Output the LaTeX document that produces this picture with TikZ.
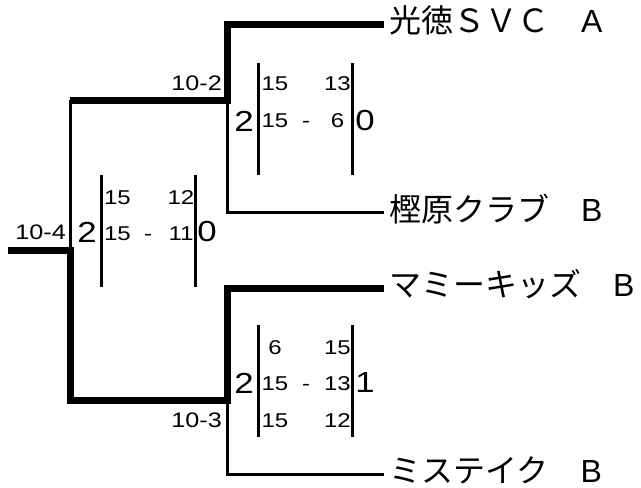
\documentclass[tikz,border=0pt]{standalone}
\usepackage{fontspec}
\setmainfont{Liberation Sans}
\newfontfamily\numfont[FakeStretch=1.2]{Liberation Sans}
\newfontfamily\jp{Noto Sans CJK JP}
\newcommand\gradeltr[1]{{\fontspec{Liberation Sans}#1}}
\newcommand\teamtxt[1]{\raisebox{3.5pt}[\height][\depth]{#1}}
\begin{document}
\begin{tikzpicture}[x=1pt,y=-1pt,
  small/.style={font=\numfont\fontsize{20}{20}\selectfont, inner sep=0pt, anchor=base},
  mlab/.style={font=\numfont\fontsize{21}{21}\selectfont, inner sep=0pt, anchor=east},
  big/.style={font=\numfont\fontsize{29}{29}\selectfont, inner sep=0pt},
  team/.style={font=\jp\fontsize{32}{32}\selectfont, anchor=west, inner xsep=5pt, inner ysep=0pt},
  win/.style={line width=7pt, line join=miter},
  lose/.style={line width=3pt, line join=miter},
  bar/.style={line width=3pt}]
\useasboundingbox (0,0) rectangle (641,488);
% teams
\node[team] (t1) at (384,24) {\teamtxt{光徳ＳＶＣ　\gradeltr{A}}};
\node[team] (t2) at (384,212.5) {\teamtxt{樫原クラブ　\gradeltr{B}}};
\node[team] (t3) at (384,288) {\teamtxt{マミーキッズ　\gradeltr{B}}};
\node[team] (t4) at (384,474) {\teamtxt{ミステイク　\gradeltr{B}}};
% junctions
\coordinate (r) at (8,250);
\coordinate (j0) at (70,250);
\coordinate (u) at (70,100);
\coordinate (ju) at (227,100);
\coordinate (l) at (70,400);
\coordinate (jl) at (227,400);
% bracket lines
\draw[win] (r) -- (j0) -- (l) -- (jl) -- (jl |- t3.west) -- (t3.west);
\draw[win] (u) -- (ju) -- (ju |- t1.west) -- (t1.west);
\draw[lose] (j0) -- (u);
\draw[lose] (ju) -- (ju |- t2.west) -- (t2.west);
\draw[lose] (jl) -- (jl |- t4.west) -- (t4.west);
% match labels
\node[mlab] (m0) at (66,232) {10-4};
\node[mlab] (m1) at (222,83) {10-2};
\node[mlab] (m2) at (222,420) {10-3};
% score block final
\node[big] (f2) at (87,232) {2};
\node[big] (f0) at (207,232) {0};
\draw[bar] (101.5,175) -- (101.5,287);
\draw[bar] (195.5,175) -- (195.5,287);
\node[small] (fa1) at (117.5,204) {15};
\node[small] (fb1) at (181,204) {12};
\node[small] (fa2) at (117.5,240) {15};
\node[small] (fd2) at (148,240) {-};
\node[small] (fb2) at (181,240) {11};
% score block semi 1
\node[big] (s2) at (244,121) {2};
\node[big] (s0) at (365,121) {0};
\draw[bar] (258.5,63) -- (258.5,175);
\draw[bar] (352.5,63) -- (352.5,175);
\node[small] (sa1) at (275,90) {15};
\node[small] (sb1) at (337.5,90) {13};
\node[small] (sa2) at (275,127) {15};
\node[small] (sd2) at (306,127) {-};
\node[small] (sb2) at (337.5,127) {6};
% score block semi 2
\node[big] (q2) at (244,383) {2};
\node[big] (q1) at (365,383) {1};
\draw[bar] (258.5,325) -- (258.5,437);
\draw[bar] (352.5,325) -- (352.5,437);
\node[small] (qa1) at (275,354) {6};
\node[small] (qb1) at (337.5,354) {15};
\node[small] (qa2) at (275,390) {15};
\node[small] (qd2) at (306,390) {-};
\node[small] (qb2) at (337.5,390) {13};
\node[small] (qa3) at (275,427) {15};
\node[small] (qb3) at (337.5,427) {12};
\end{tikzpicture}
\end{document}
